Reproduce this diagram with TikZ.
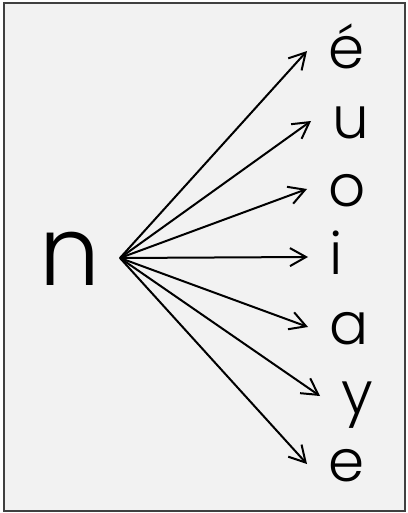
\documentclass[tikz,border=0pt]{standalone}
\usepackage{fontspec}
\setmainfont{Poppins Light}
\usepackage{tikz}
\usetikzlibrary{arrows.meta}

\begin{document}
\begin{tikzpicture}[
  x=1pt, y=-1pt,
  >={Straight Barb[length=16pt,width=18pt]},
  every edge/.style={draw, ->, line width=2pt},
  vowel/.style={anchor=west, inner xsep=21pt, inner ysep=0pt,
    text height=35pt, text depth=0pt, font=\fontsize{58}{64}\selectfont},
  source/.style={anchor=east, inner xsep=20pt, inner ysep=0pt,
    text height=54pt, text depth=0pt, font=\fontsize{96}{104}\selectfont}
]
\useasboundingbox (0,0) rectangle (407,513);
\draw[fill={rgb,255:red,242;green,242;blue,242}, draw={rgb,255:red,64;green,64;blue,64}, line width=1.5pt]
  (4,3) rectangle (405,511);
\node[source] (n) at (120,258) {n};
\node[vowel] (ve) at (307,51) {é};
\node[vowel] (vu) at (311,121) {u};
\node[vowel] (vo) at (307,189) {o};
\node[vowel] (vi) at (308,257) {i};
\node[vowel] (va) at (308,327) {a};
\node[vowel] (vy) at (320,396) {y};
\node[vowel] (vee) at (307,464) {e};
\path
  (n.east) edge (ve.west)
  (n.east) edge (vu.west)
  (n.east) edge (vo.west)
  (n.east) edge (vi.west)
  (n.east) edge (va.west)
  (n.east) edge (vy.west)
  (n.east) edge (vee.west);
\end{tikzpicture}
\end{document}
